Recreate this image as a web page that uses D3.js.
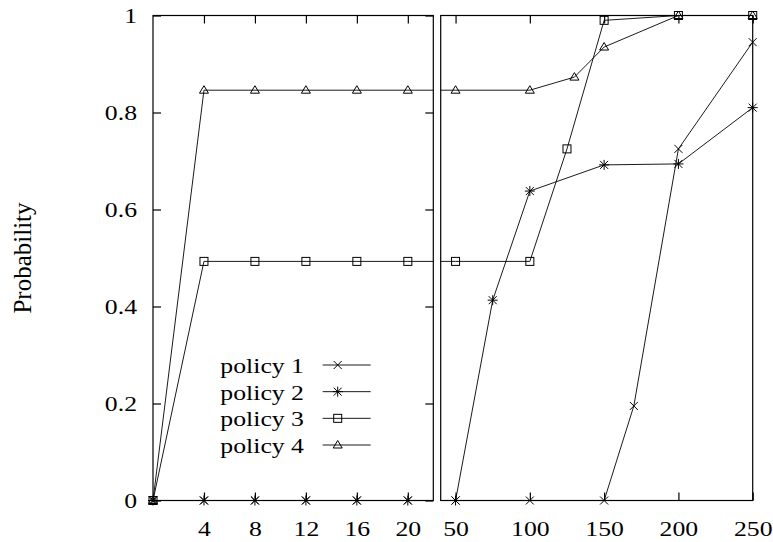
<!DOCTYPE html>
<html lang="en">
<head>
<meta charset="UTF-8">
<title>Probability by policy</title>
<script src="https://d3js.org/d3.v7.min.js"></script>
<style>
  body { margin: 0; background: #fff; }
  svg { display: block; }
  text { font-family: "Times New Roman", "Liberation Serif", Times, serif; fill: #000; }
  .frame { fill: none; stroke: #000; stroke-width: 1.2; }
  .tick line { stroke: #000; stroke-width: 1.2; }
  .series { fill: none; stroke: #000; stroke-width: 0.9; }
  .mark { fill: none; stroke: #000; stroke-width: 1; }
</style>
</head>
<body>
<svg id="chart" width="773" height="542"></svg>
<script>
// data, one x/y pair of arrays per policy (x runs across both panels)
const policy1X = [0, 4, 8, 12, 16, 20, 50, 100, 150, 170, 200, 250];
const policy1Y = [0, 0, 0, 0, 0, 0, 0, 0, 0, 0.195, 0.725, 0.945];
const policy2X = [0, 4, 8, 12, 16, 20, 50, 75, 100, 150, 200, 250];
const policy2Y = [0, 0, 0, 0, 0, 0, 0, 0.413, 0.638, 0.692, 0.694, 0.81];
const policy3X = [0, 4, 8, 12, 16, 20, 50, 100, 125, 150, 200, 250];
const policy3Y = [0, 0.493, 0.493, 0.493, 0.493, 0.493, 0.493, 0.493, 0.725, 0.99, 1, 1];
const policy4X = [0, 4, 8, 12, 16, 20, 50, 100, 130, 150, 200, 250];
const policy4Y = [0, 0.846, 0.846, 0.846, 0.846, 0.846, 0.846, 0.846, 0.873, 0.935, 1, 1];

const seriesNames = ["policy 1", "policy 2", "policy 3", "policy 4"];
const markerTypes = ["cross", "star", "square", "triangle"];
const leftTicks = [4, 8, 12, 16, 20];
const rightTicks = [50, 100, 150, 200, 250];
const yTicks = [0, 0.2, 0.4, 0.6, 0.8, 1];

const series = [
  { name: seriesNames[0], marker: markerTypes[0], pts: policy1X.map((x, i) => [x, policy1Y[i]]) },
  { name: seriesNames[1], marker: markerTypes[1], pts: policy2X.map((x, i) => [x, policy2Y[i]]) },
  { name: seriesNames[2], marker: markerTypes[2], pts: policy3X.map((x, i) => [x, policy3Y[i]]) },
  { name: seriesNames[3], marker: markerTypes[3], pts: policy4X.map((x, i) => [x, policy4Y[i]]) }
];

const svg = d3.select("#chart");
const plotTop = 15.5, plotBottom = 500.5;
const y = d3.scaleLinear().domain([0, 1]).range([plotBottom, plotTop]);

const panels = [
  { id: "left", x: d3.scaleLinear().domain([0, 22]).range([153, 433.3]), ticks: leftTicks, yTicks: true },
  { id: "right", x: d3.scaleLinear().domain([40, 250]).range([440.7, 752.7]), ticks: rightTicks, yTicks: false }
];

const XSCALE = 1.17; // the reference type is a little stretched sideways

// marker drawing
function drawMarker(g, type, cx, cy) {
  const s = 4;
  if (type === "cross" || type === "star") {
    g.append("path").attr("class", "mark")
      .attr("d", `M${cx - s},${cy - s}L${cx + s},${cy + s}M${cx - s},${cy + s}L${cx + s},${cy - s}`);
    if (type === "star") {
      g.append("path").attr("class", "mark")
        .attr("d", `M${cx},${cy - s - 1}L${cx},${cy + s + 1}M${cx - s - 1},${cy}L${cx + s + 1},${cy}`);
    }
  } else if (type === "square") {
    g.append("rect").attr("class", "mark")
      .attr("x", cx - s).attr("y", cy - s).attr("width", 2 * s).attr("height", 2 * s);
  } else {
    g.append("path").attr("class", "mark")
      .attr("d", `M${cx},${cy - s - 0.5}L${cx + s + 0.5},${cy + s - 1}L${cx - s - 0.5},${cy + s - 1}Z`);
  }
}

panels.forEach(p => {
  const [x0, x1] = p.x.range();
  const g = svg.append("g");

  svg.append("clipPath").attr("id", "clip-" + p.id)
    .append("rect").attr("x", x0).attr("y", plotTop - 6).attr("width", x1 - x0).attr("height", plotBottom - plotTop + 12);

  // ticks, gnuplot style (pointing inward)
  const xb = g.append("g").attr("transform", `translate(0,${plotBottom})`)
    .call(d3.axisBottom(p.x).tickValues(p.ticks).tickSize(-8).tickFormat(d3.format("d")));
  xb.select(".domain").remove();
  xb.selectAll("text")
    .attr("y", 36).attr("dy", 0)
    .attr("font-size", 22)
    .attr("transform", `scale(${XSCALE},1)`);

  const xt = g.append("g").attr("transform", `translate(0,${plotTop})`)
    .call(d3.axisTop(p.x).tickValues(p.ticks).tickSize(-8).tickFormat(""));
  xt.select(".domain").remove();

  if (p.yTicks) {
    const yl = g.append("g").attr("transform", `translate(${x0},0)`)
      .call(d3.axisLeft(y).tickValues(yTicks).tickSize(-8).tickFormat(d3.format("")));
    yl.select(".domain").remove();
    yl.selectAll("text")
      .attr("x", -16 / XSCALE).attr("dy", "0.34em")
      .attr("font-size", 22)
      .attr("transform", `scale(${XSCALE},1)`);

    const yr = g.append("g").attr("transform", `translate(${x1},0)`)
      .call(d3.axisRight(y).tickValues(yTicks).tickSize(-8).tickFormat(""));
    yr.select(".domain").remove();
  }

  // lines, clipped to the panel
  const line = d3.line().x(d => p.x(d[0])).y(d => y(d[1]));
  const plot = g.append("g").attr("clip-path", `url(#clip-${p.id})`);
  series.forEach(s => {
    plot.append("path").attr("class", "series").attr("d", line(s.pts));
  });

  const dom = p.x.domain();
  series.forEach(s => {
    s.pts.filter(d => d[0] >= dom[0] && d[0] <= dom[1])
      .forEach(d => drawMarker(g, s.marker, p.x(d[0]), y(d[1])));
  });

  g.append("rect").attr("class", "frame")
    .attr("x", x0).attr("y", plotTop).attr("width", x1 - x0).attr("height", plotBottom - plotTop);
});

// y axis title
svg.append("text")
  .attr("transform", `translate(31,258) rotate(-90)`)
  .attr("text-anchor", "middle")
  .attr("font-size", 25)
  .text("Probability");

// legend
const legend = svg.append("g");
series.forEach((s, i) => {
  const ry = 365 + i * 26.67;
  legend.append("text")
    .attr("transform", `translate(304,${ry + 8}) scale(${XSCALE},1)`)
    .attr("text-anchor", "end")
    .attr("font-size", 22)
    .text(s.name);
  legend.append("line").attr("class", "series")
    .attr("x1", 322.7).attr("x2", 370.7).attr("y1", ry).attr("y2", ry);
  drawMarker(legend, s.marker, 337.7, ry);
});
</script>
</body>
</html>
